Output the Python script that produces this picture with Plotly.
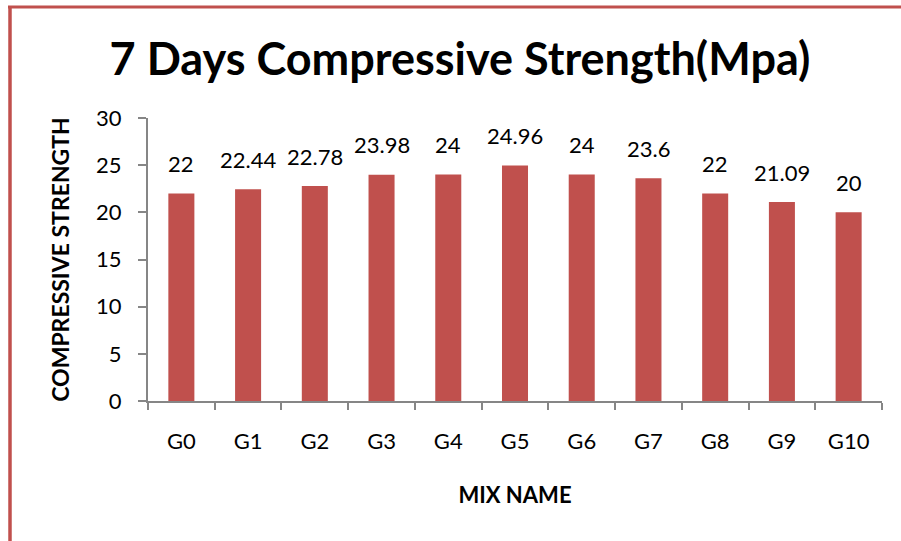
import plotly.graph_objects as go

categories = ["G0", "G1", "G2", "G3", "G4", "G5", "G6", "G7", "G8", "G9", "G10"]
values = [22, 22.44, 22.78, 23.98, 24, 24.96, 24, 23.6, 22, 21.09, 20]
labels = ["22", "22.44", "22.78", "23.98", "24", "24.96", "24", "23.6", "22", "21.09", "20"]
y_ticks = [0, 5, 10, 15, 20, 25, 30]

FONT = "Lato, 'Open Sans', sans-serif"
L, R, T, B = 148, 19, 118, 140
W, H = 901, 541
PW, PH = W - L - R, H - T - B

fig = go.Figure(go.Bar(
    x=categories, y=values,
    marker=dict(color="#C0504D", line=dict(width=0)),
))

for c, v, t in zip(categories, values, labels):
    fig.add_annotation(x=c, y=v, text=t, showarrow=False, yanchor="middle",
                       yshift=30, font=dict(size=22, color="#000000", family=FONT))

fig.update_layout(
    width=W, height=H,
    margin=dict(l=L, r=R, t=T, b=B, autoexpand=False),
    paper_bgcolor="white", plot_bgcolor="white",
    bargap=0.61,
    showlegend=False,
    title=dict(text="<b>7 Days Compressive Strength(Mpa)</b>", x=(460) / W, xanchor="center",
               y=1 - 59 / H, yanchor="middle",
               font=dict(size=45, color="#000000", family=FONT)),
    font=dict(family=FONT, color="#000000"),
)

fig.update_xaxes(
    automargin=False,
    showline=True, linecolor="#868686", linewidth=2,
    ticks="outside", tickson="boundaries", ticklen=7, tickcolor="#868686", tickwidth=2,
    tickfont=dict(size=22, color="#000000"), ticklabelstandoff=20,
    title=dict(text="<b>MIX NAME</b>", font=dict(size=22, color="#000000"), standoff=34),
    showgrid=False,
)
fig.update_yaxes(
    automargin=False,
    range=[0, 30], tickvals=y_ticks,
    showline=True, linecolor="#868686", linewidth=2,
    ticks="outside", ticklen=8, tickcolor="#868686", tickwidth=2,
    tickfont=dict(size=22, color="#000000"), ticklabelstandoff=12,
    title=dict(text="<b>COMPRESSIVE STRENGTH</b>", font=dict(size=23, color="#000000"), standoff=20),
    showgrid=False, zeroline=False,
)

# red frame (left and top edges) in paper coordinates
def px_x(p):
    return (p - L) / PW

def px_y(p):
    return (H - B - p) / PH

fig.add_shape(type="line", xref="paper", yref="paper",
              x0=px_x(10), x1=px_x(10), y0=px_y(6), y1=px_y(H + 5),
              line=dict(color="#C0504D", width=3.5))
fig.add_shape(type="line", xref="paper", yref="paper",
              x0=px_x(8), x1=px_x(W + 5), y0=px_y(7), y1=px_y(7),
              line=dict(color="#C0504D", width=3))

fig.write_html("out.html", config={"displayModeBar": False},
               post_script="document.body.style.margin='0';")
